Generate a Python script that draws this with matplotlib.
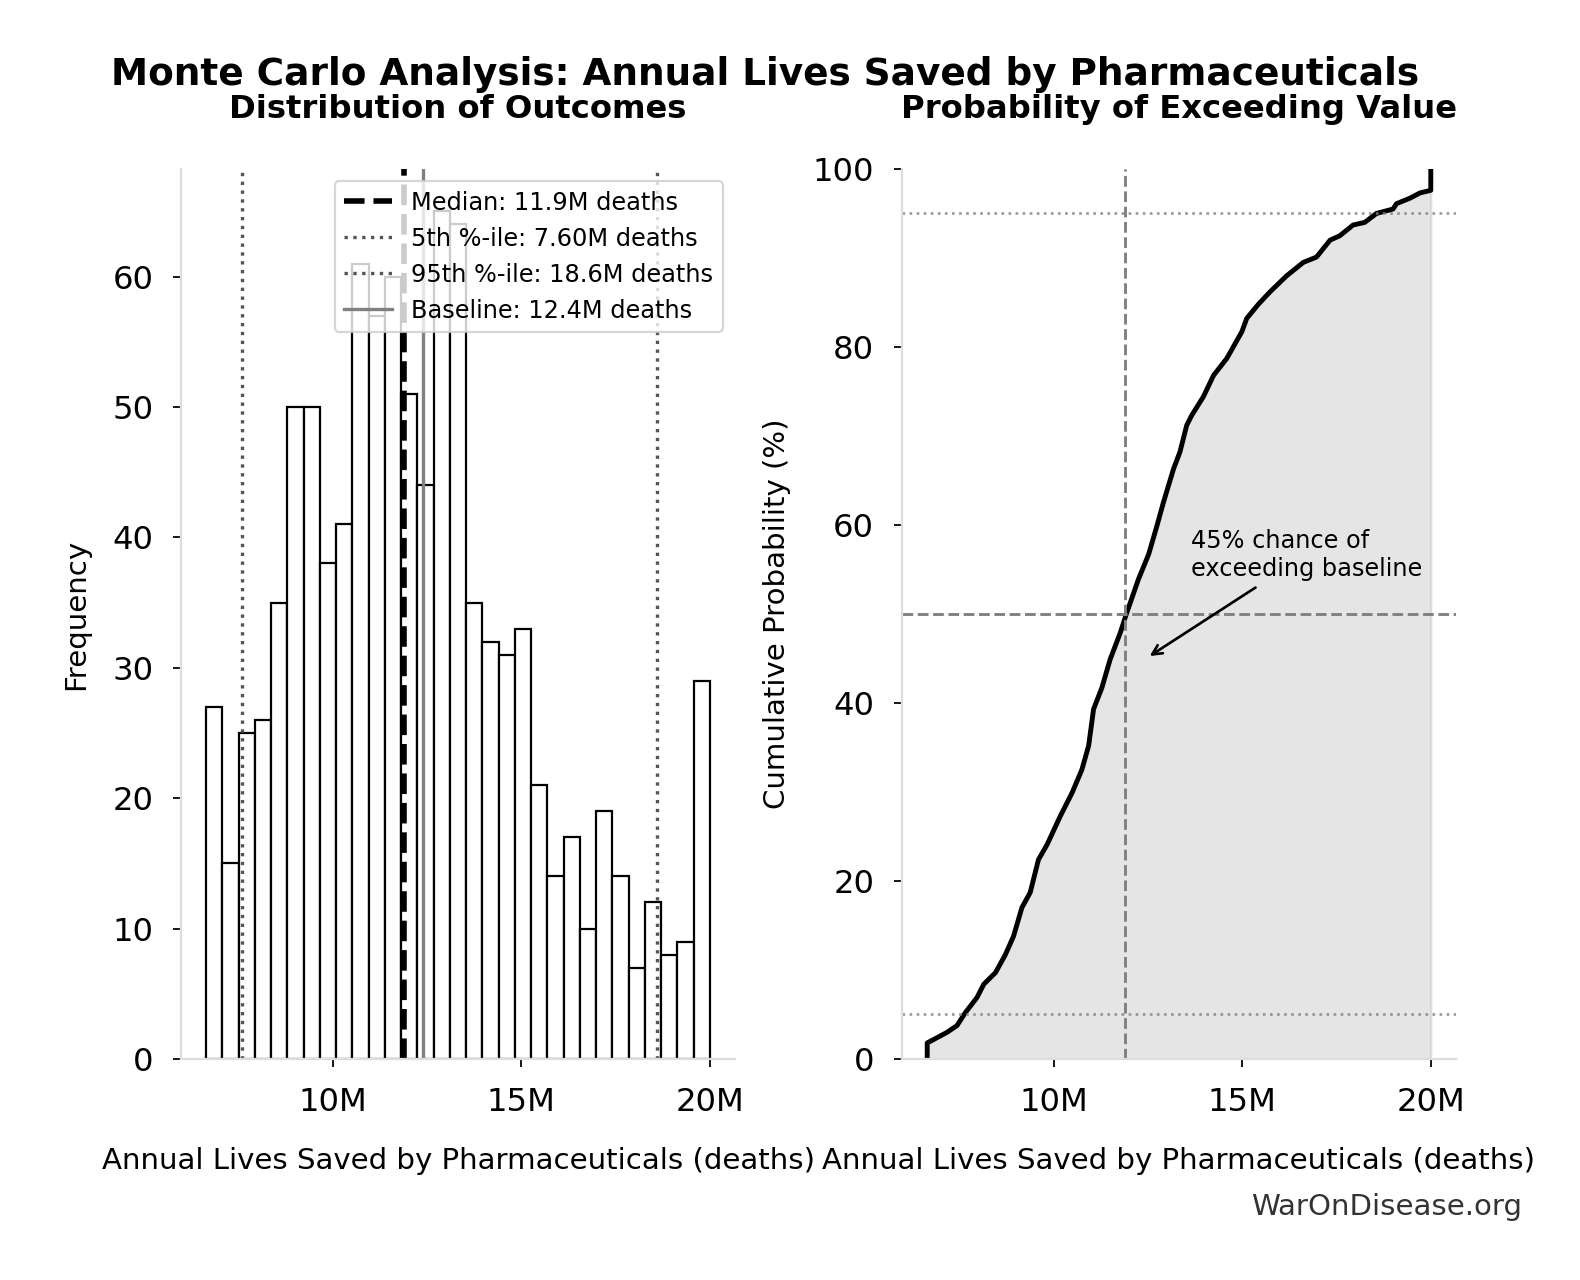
import numpy as np
import matplotlib
matplotlib.use("Agg")
import matplotlib.pyplot as plt
from matplotlib.ticker import FuncFormatter

# histogram of simulated outcomes (millions of deaths averted per year)
hist_min = 6.65
hist_max = 20.0
counts = [27, 15, 25, 26, 35, 50, 50, 38, 41, 61, 57, 60, 51, 44, 65, 64,
          35, 32, 31, 33, 21, 14, 17, 10, 19, 14, 7, 12, 8, 9, 29]

median = 11.9
p5 = 7.60
p95 = 18.6
baseline = 12.4

# cumulative distribution
cdf_x = [6.65, 6.65, 6.96, 7.18, 7.44, 7.66, 7.97, 8.15, 8.46, 8.72, 8.94,
         9.16, 9.38, 9.60, 9.83, 10.18, 10.49, 10.75, 10.93, 11.06, 11.28,
         11.50, 11.77, 11.93, 12.25, 12.52, 12.74, 12.91, 13.18, 13.35,
         13.53, 13.66, 13.97, 14.24, 14.59, 14.99, 15.12, 15.43, 15.74,
         16.18, 16.62, 16.97, 17.33, 17.59, 17.94, 18.25, 18.56, 19.00,
         19.09, 19.44, 19.71, 20.0, 20.0]
cdf_pct = [0.1, 1.8, 2.5, 3.0, 3.75, 5.2, 6.9, 8.4, 9.7, 11.7, 13.8, 17.0,
           18.7, 22.4, 24.1, 27.3, 29.9, 32.5, 35.2, 39.3, 41.7, 44.9, 47.9,
           50.0, 53.9, 56.7, 59.9, 62.5, 66.3, 68.2, 71.2, 72.3, 74.4, 76.8,
           78.7, 81.7, 83.2, 84.8, 86.2, 88.0, 89.5, 90.1, 92.0, 92.5, 93.7,
           94.0, 95.0, 95.5, 96.1, 96.7, 97.3, 97.6, 100.0]

note_xy = (12.45, 45)
note_text_xy = (13.63, 54.3)

TICK_FS = 14.5
LABEL_FS = 13.2
xlabel = "Annual Lives Saved by Pharmaceuticals (deaths)"
fmt_m = FuncFormatter(lambda v, p: f"{v:.0f}M")


def style_axes(ax):
    for side in ("top", "right"):
        ax.spines[side].set_visible(False)
    for side in ("left", "bottom"):
        ax.spines[side].set_color("#dddddd")
        ax.spines[side].set_linewidth(1.0)
    ax.tick_params(labelsize=TICK_FS, pad=9)
    ax.xaxis.set_major_formatter(fmt_m)
    ax.set_xticks([10, 15, 20])


fig = plt.figure(figsize=(9.875, 8.0), dpi=160)
ax1 = fig.add_axes([0.1146, 0.1727, 0.3506, 0.6953])
ax2 = fig.add_axes([0.5709, 0.1727, 0.3506, 0.6953])

# left: histogram
edges = np.linspace(hist_min, hist_max, len(counts) + 1)
ax1.bar(edges[:-1], counts, width=np.diff(edges), align="edge",
        color="white", edgecolor="black", linewidth=1.0)
ax1.axvline(median, color="black", linestyle="--", linewidth=2.5,
            label=f"Median: {median:.1f}M deaths")
ax1.axvline(p5, color="#555555", linestyle=":", linewidth=1.5,
            label=f"5th %-ile: {p5:.2f}M deaths")
ax1.axvline(p95, color="#555555", linestyle=":", linewidth=1.5,
            label=f"95th %-ile: {p95:.1f}M deaths")
ax1.axvline(baseline, color="gray", linestyle="-", linewidth=1.5,
            label=f"Baseline: {baseline:.1f}M deaths")
style_axes(ax1)
ax1.set_yticks(range(0, 61, 10))
ax1.set_xlabel(xlabel, fontsize=LABEL_FS, labelpad=13)
ax1.set_ylabel("Frequency", fontsize=LABEL_FS, labelpad=10)
ax1.set_title("Distribution of Outcomes", fontsize=14.5, fontweight="bold", pad=23)
ax1.legend(loc="upper right", fontsize=10.8)

# right: cumulative probability
ax2.fill_between(cdf_x, cdf_pct, color="gray", alpha=0.2)
ax2.plot(cdf_x, cdf_pct, color="black", linewidth=2.2)
ax2.axhline(50, color="gray", linestyle="--", linewidth=1.3)
ax2.axvline(median, color="gray", linestyle="--", linewidth=1.3)
ax2.axhline(5, color="gray", linestyle=":", linewidth=1.2, alpha=0.8)
ax2.axhline(95, color="gray", linestyle=":", linewidth=1.2, alpha=0.8)
ax2.annotate("45% chance of\nexceeding baseline", xy=note_xy,
             xytext=note_text_xy, fontsize=10.8,
             arrowprops=dict(arrowstyle="->", color="black", lw=1.2))
style_axes(ax2)
ax2.set_ylim(0, 100)
ax2.set_xlabel(xlabel, fontsize=LABEL_FS, labelpad=13)
ax2.set_ylabel("Cumulative Probability (%)", fontsize=LABEL_FS, labelpad=10)
ax2.set_title("Probability of Exceeding Value", fontsize=14.5, fontweight="bold", pad=23)

fig.text(0.484, 0.9336, "Monte Carlo Analysis: Annual Lives Saved by Pharmaceuticals",
         ha="center", va="baseline", fontsize=16.8, fontweight="bold")
fig.text(0.963, 0.0508, "WarOnDisease.org", ha="right", va="baseline",
         fontsize=13.2, color="#333333")

fig.savefig("out.png", dpi=160)
